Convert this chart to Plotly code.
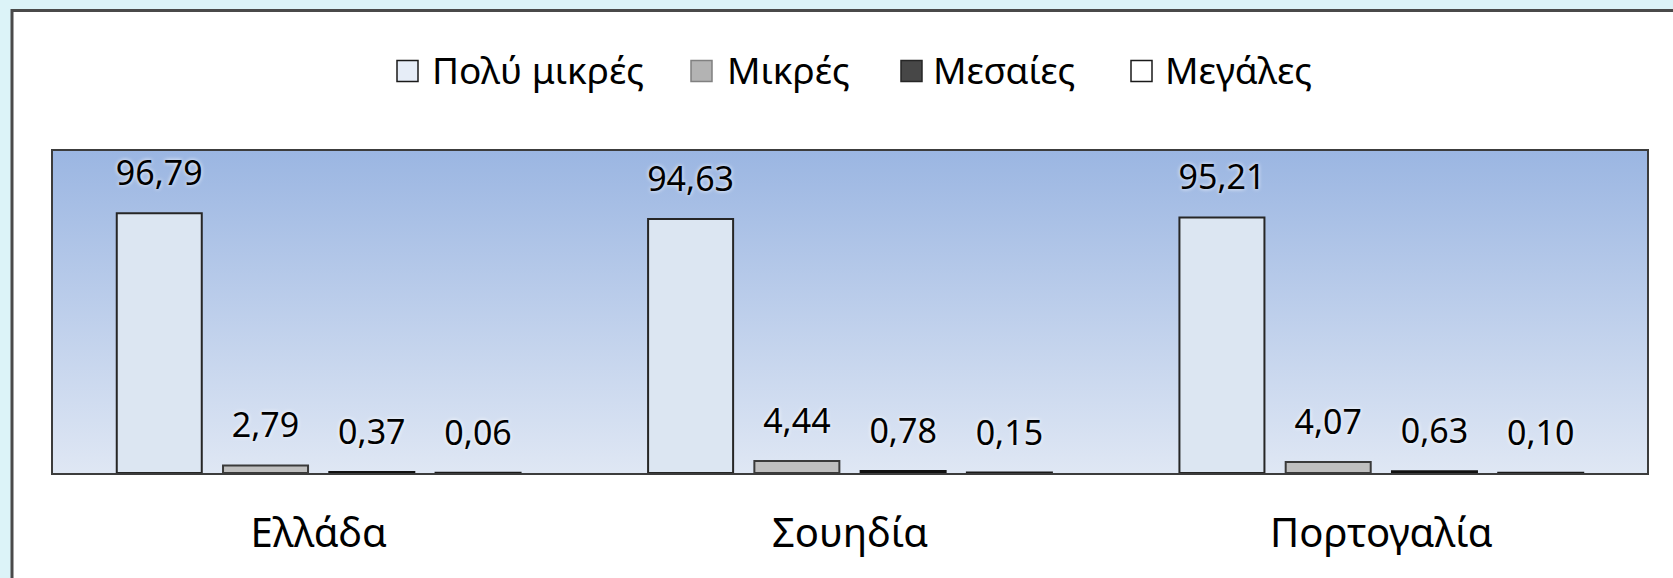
import plotly.graph_objects as go

# ---------------- data ----------------
categories = ["Ελλάδα", "Σουηδία", "Πορτογαλία"]
series_names = ["Πολύ μικρές", "Μικρές", "Μεσαίες", "Μεγάλες"]
very_small = [96.79, 94.63, 95.21]
small = [2.79, 4.44, 4.07]
medium = [0.37, 0.78, 0.63]
large = [0.06, 0.15, 0.10]
series_values = [very_small, small, medium, large]

# ---------------- layout / style ----------------
W, H = 1673, 578
L, R, T, B = 53, 26, 151, 105
PW = W - L - R
PH = H - T - B

fill_colors = ["#dce6f2", "#bfbfbf", "#404040", "#f7f7f7"]
line_colors = ["#262626", "#3a3a3a", "#111111", "#1a1a1a"]
legend_fill = ["#e6edf7", "#b3b3b3", "#474747", "#ffffff"]
legend_line = ["#1a1a1a", "#808080", "#262626", "#1a1a1a"]
legend_marker_x = [397, 691, 901, 1131]
legend_text_x = [430, 725, 931, 1163]
LEGEND_Y = 69
MARK = 21
LABEL_LIFT = 5.6
FONT = "Noto Sans"


def px_x(px):
    return (px - L) / PW


def px_y(py):
    return (H - B - py) / PH


def fmt(v):
    return f"{v:.2f}".replace(".", ",")


fig = go.Figure()

# gradient background of the plot area
fig.add_trace(go.Scatter(
    x=[0, 1, 1, 0, 0], y=[0, 0, 1, 1, 0], mode="lines", line=dict(width=0),
    fill="toself",
    fillgradient=dict(type="vertical", start=0, stop=1,
                      colorscale=[[0, "#dfe7f4"], [1, "#9bb6e2"]]),
    hoverinfo="skip", showlegend=False, xaxis="x", yaxis="y"))

for i, (name, vals) in enumerate(zip(series_names, series_values)):
    fig.add_trace(go.Bar(
        x=categories, y=vals, name=name, offsetgroup=str(i),
        marker=dict(color=fill_colors[i], line=dict(color=line_colors[i], width=2)),
        xaxis="x2", yaxis="y2", showlegend=False))
    fig.add_trace(go.Bar(
        x=categories, y=[LABEL_LIFT] * len(vals), base=vals, offsetgroup=str(i),
        marker=dict(color="rgba(0,0,0,0)", line=dict(width=0)),
        text=[fmt(v) for v in vals], textposition="outside", constraintext="none",
        cliponaxis=False,
        textfont=dict(family=FONT, size=34, color="#000000",
                      shadow="0px 0px 4px #ffffff"),
        xaxis="x2", yaxis="y2", showlegend=False, hoverinfo="skip"))

shapes = [
    dict(type="rect", xref="paper", yref="paper", layer="below",
         x0=px_x(12), x1=px_x(1720), y0=px_y(640), y1=px_y(10.5),
         fillcolor="#ffffff", line=dict(color="#4a4a4a", width=3)),
]
annotations = []
for i, name in enumerate(series_names):
    shapes.append(dict(
        type="rect", xref="paper", yref="paper",
        x0=px_x(legend_marker_x[i]), x1=px_x(legend_marker_x[i] + MARK),
        y0=px_y(LEGEND_Y + 2 + MARK / 2), y1=px_y(LEGEND_Y + 2 - MARK / 2),
        fillcolor=legend_fill[i], line=dict(color=legend_line[i], width=1.5)))
    annotations.append(dict(
        xref="paper", yref="paper", x=px_x(legend_text_x[i]), y=px_y(LEGEND_Y),
        xanchor="left", yanchor="middle", showarrow=False, text=name,
        font=dict(family=FONT, size=37, color="#000000")))

fig.update_layout(
    width=W, height=H, margin=dict(l=L, r=R, t=T, b=B),
    paper_bgcolor="#dcf3f8", plot_bgcolor="rgba(0,0,0,0)",
    barmode="group", bargap=0.2, bargroupgap=0.2, showlegend=False,
    separators=",.",
    xaxis=dict(range=[0, 1], showticklabels=False, showgrid=False, zeroline=False,
               showline=True, mirror=True, linecolor="#3c3c3c", linewidth=2,
               ticks="", fixedrange=True),
    yaxis=dict(range=[0, 1], showticklabels=False, showgrid=False, zeroline=False,
               showline=True, mirror=True, linecolor="#3c3c3c", linewidth=2,
               ticks="", fixedrange=True),
    xaxis2=dict(overlaying="x", anchor="y2", side="bottom", type="category",
                range=[-0.5, 2.5], showgrid=False, showline=False, zeroline=False,
                ticks="", ticklabelstandoff=33, fixedrange=True,
                tickfont=dict(family=FONT, size=40, color="#000000")),
    yaxis2=dict(overlaying="y", anchor="x2", range=[0, 120], visible=False,
                fixedrange=True),
    shapes=shapes, annotations=annotations,
    hovermode=False,
)

fig.write_html(
    "out.html",
    config={"displayModeBar": False},
    post_script="document.body.style.margin='0px';"
                "document.body.style.background='#dcf3f8';",
)
